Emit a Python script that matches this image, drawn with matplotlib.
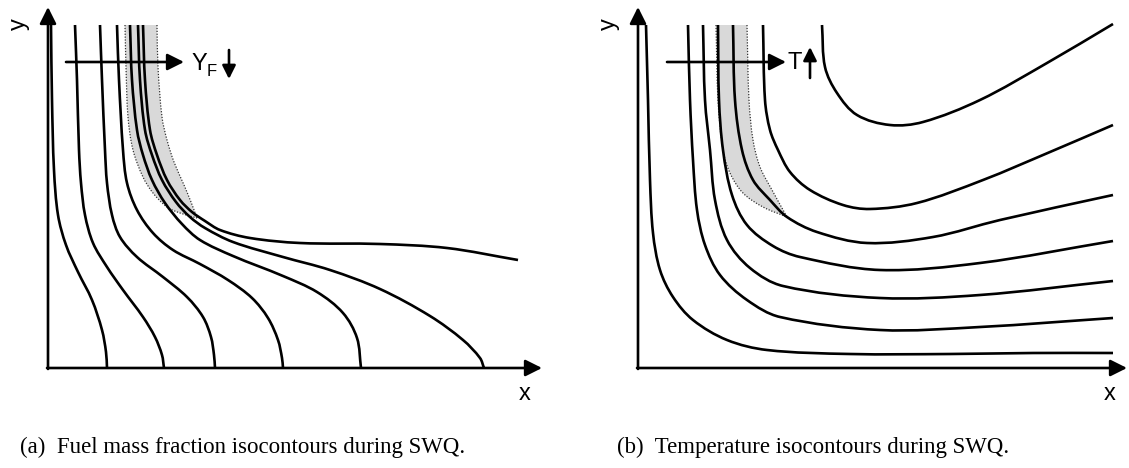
import numpy as np
import matplotlib
matplotlib.use("Agg")
import matplotlib.pyplot as plt
from matplotlib.path import Path
from matplotlib.patches import PathPatch

## DATA  (pixel units, y pointing down)

# (a) fuel mass fraction isocontours, left to right
yf_curves = [
    [(51, 25), (52, 100), (54, 170), (58, 215), (66, 245), (78, 272), (92, 300), (102, 330), (106, 352), (107, 368)],
    [(75, 25), (77, 80), (79, 150), (81, 183), (85, 215), (93, 243), (107, 267), (123, 290), (143, 317), (155, 337), (162, 355), (164, 368)],
    [(100, 25), (102, 80), (105, 150), (107, 183), (112, 215), (120, 237), (137, 257), (163, 277), (187, 297), (203, 317), (211, 337), (214, 355), (215, 368)],
    [(117, 25), (119, 80), (123, 150), (127, 183), (137, 210), (153, 233), (173, 250), (200, 264), (228, 280), (252, 298), (268, 318), (278, 340), (282, 358), (283, 368)],
    [(130, 25), (132, 80), (137, 130), (143, 155), (152, 180), (165, 203), (182, 224), (200, 240), (233, 256), (283, 276), (317, 292), (343, 313), (357, 338), (361, 368)],
    [(138, 25), (140, 80), (145, 130), (152, 155), (162, 180), (176, 202), (190, 217), (205, 228), (233, 242), (283, 257), (330, 270), (380, 289), (430, 316), (463, 340), (480, 358), (484, 368)],
    [(143, 25), (145, 80), (150, 130), (157, 155), (167, 180), (180, 200), (192, 212), (205, 221), (220, 230), (250, 238), (300, 243), (380, 244), (447, 248), (518, 260)],
]
yf_band_left = [(125, 25), (126, 67), (128, 117), (133, 150), (143, 177), (153, 193), (167, 207), (180, 213), (197, 218)]
yf_band_right = [(157, 25), (158, 67), (162, 117), (167, 140), (174, 162), (184, 185), (191, 202), (197, 218)]

# (b) temperature isocontours, left to right
t_curves = [
    [(646, 25), (648, 100), (650, 180), (653, 233), (660, 270), (673, 297), (693, 320), (727, 340), (767, 350), (850, 354), (950, 354), (1033, 353), (1113, 353)],
    [(688, 25), (690, 100), (693, 160), (697, 210), (705, 245), (720, 275), (747, 300), (780, 317), (880, 330), (980, 327), (1113, 318)],
    [(703, 25), (705, 100), (710, 150), (715, 200), (727, 240), (750, 268), (783, 286), (880, 298), (980, 295), (1113, 281)],
    [(718, 25), (719, 100), (723, 150), (732, 195), (747, 225), (773, 246), (800, 257), (880, 270), (980, 263), (1113, 241)],
    [(733, 25), (735, 100), (742, 150), (753, 180), (770, 200), (787, 217), (817, 232), (867, 243), (933, 237), (1000, 220), (1113, 195)],
    [(763, 25), (765, 100), (770, 130), (778, 150), (790, 172), (810, 190), (843, 205), (870, 209), (917, 203), (983, 180), (1050, 152), (1113, 125)],
    [(822, 25), (825, 67), (837, 93), (857, 115), (890, 125), (923, 122), (980, 100), (1047, 63), (1113, 24)],
]
t_band_left = [(716, 25), (718, 100), (723, 150), (730, 173), (743, 193), (763, 207), (787, 217)]
t_band_right = [(747, 25), (749, 100), (753, 140), (760, 167), (772, 190), (787, 217)]

# axis corners and arrow tips
origins = [(48, 368), (638, 368)]
x_tips = [542, 1127]
y_tip = 7

captions = ["(a)  Fuel mass fraction isocontours during SWQ.",
            "(b)  Temperature isocontours during SWQ."]


def bezier(pts):
    # smooth cubic path through the points; tangent lengths follow the chords
    p = np.asarray(pts, dtype=float)
    n = len(p)
    tang = np.zeros_like(p)
    for i in range(n):
        d = p[min(i + 1, n - 1)] - p[max(i - 1, 0)]
        tang[i] = d / np.hypot(*d)
    verts = [p[0]]
    codes = [Path.MOVETO]
    for i in range(n - 1):
        L = np.hypot(*(p[i + 1] - p[i])) / 3.
        verts += [p[i] + tang[i] * L, p[i + 1] - tang[i + 1] * L, p[i + 1]]
        codes += [Path.CURVE4] * 3
    return verts, codes


def curve(ax, pts, **kw):
    v, c = bezier(pts)
    ax.add_patch(PathPatch(Path(v, c), fill=False, **kw))


def band(ax, left, right):
    v1, c1 = bezier(left)
    v2, c2 = bezier(right[::-1])
    c2 = [Path.LINETO] + c2[1:]
    verts = v1 + v2 + [v1[0]]
    codes = c1 + c2 + [Path.CLOSEPOLY]
    ax.add_patch(PathPatch(Path(verts, codes), facecolor="#d9d9d9", edgecolor="none", zorder=1))
    for edge in (left, right):
        curve(ax, edge, edgecolor="#333333", lw=0.9, linestyle=(0, (1, 1.3)), zorder=2)


def arrow(ax, start, tip, ms=25, lw=1.9):
    ax.annotate("", xy=tip, xytext=start,
                arrowprops=dict(arrowstyle="-|>", mutation_scale=ms, lw=lw, color="k",
                                shrinkA=0, shrinkB=0), zorder=5)


fig = plt.figure(figsize=(11.29, 4.68), dpi=100)
ax = fig.add_axes([0, 0, 1, 1])
ax.set_xlim(0, 1129)
ax.set_ylim(468, 0)
ax.axis("off")

sans = "Liberation Sans"
serif = "Liberation Serif"

band(ax, yf_band_left, yf_band_right)
band(ax, t_band_left, t_band_right)

for c in yf_curves + t_curves:
    curve(ax, c, edgecolor="k", lw=1.9, zorder=3, capstyle="butt")

for (ox, oy), xt in zip(origins, x_tips):
    arrow(ax, (ox, oy + 1), (ox, y_tip))
    arrow(ax, (ox - 1, oy), (xt, oy))
    ax.text(ox - 29, 24, "y", rotation=90, fontsize=17, family=sans, ha="center", va="center")
    ax.text(xt - 17, 394, "x", fontsize=17, family=sans, ha="center", va="center")

# direction markers
arrow(ax, (66, 62), (184, 62))
ax.text(191, 64, "Y", fontsize=17, family=sans, ha="left", va="center")
ax.text(207, 71, "F", fontsize=12, family=sans, ha="left", va="center")
arrow(ax, (229, 50), (229, 79), ms=20)

arrow(ax, (667, 62), (786, 62))
ax.text(788, 63, "T", fontsize=17, family=sans, ha="left", va="center")
arrow(ax, (810, 78), (810, 47), ms=20)

ax.text(20, 447, captions[0], fontsize=16.5, family=serif, ha="left", va="center")
ax.text(617, 447, captions[1], fontsize=16.5, family=serif, ha="left", va="center")

fig.savefig("out.png", dpi=100)
